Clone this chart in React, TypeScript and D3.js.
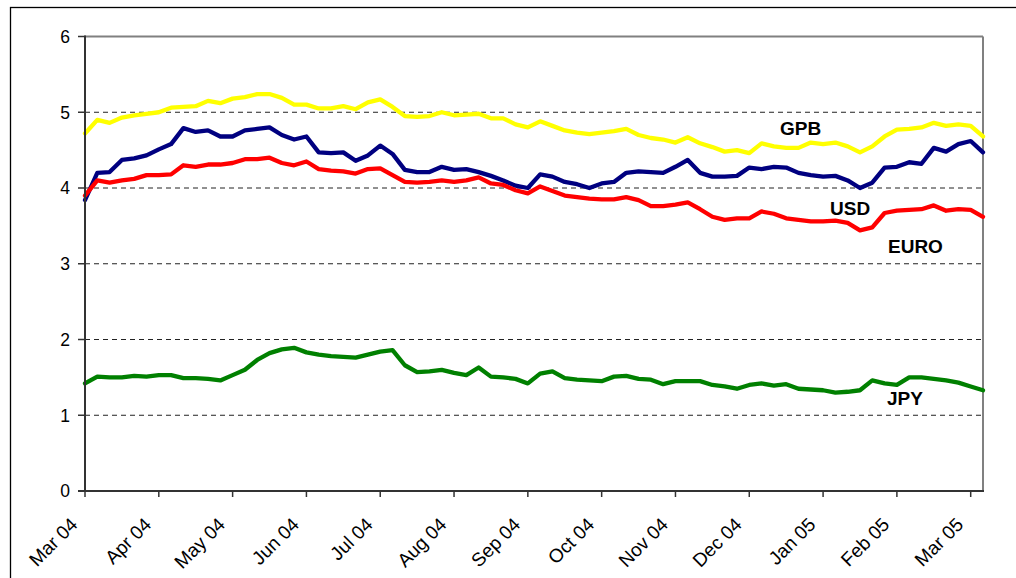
import React from "react";
import * as d3 from "d3";

// Month tick labels (equally spaced on a category-style axis)
const monthLabels = [
  "Mar 04", "Apr 04", "May 04", "Jun 04", "Jul 04", "Aug 04", "Sep 04",
  "Oct 04", "Nov 04", "Dec 04", "Jan 05", "Feb 05", "Mar 05",
];
const yTicks = [0, 1, 2, 3, 4, 5, 6];
// samples every 1/6 month, starting at Mar 04
const gbp = [
  4.72, 4.9, 4.86, 4.93, 4.96, 4.98, 5.0, 5.06, 5.07, 5.08, 5.15, 5.12, 5.18, 5.2, 5.24, 5.24, 5.19, 5.1, 5.1, 5.05,
  5.05, 5.08, 5.04, 5.13, 5.17, 5.07, 4.95, 4.94, 4.95, 5.0, 4.96, 4.97, 4.98, 4.92, 4.92, 4.84, 4.8, 4.88, 4.82, 4.76,
  4.73, 4.71, 4.73, 4.75, 4.78, 4.7, 4.66, 4.64, 4.6, 4.67, 4.59, 4.54, 4.48, 4.5, 4.46, 4.59, 4.55, 4.53, 4.53, 4.6,
  4.58, 4.6, 4.55, 4.47, 4.55, 4.68, 4.77, 4.78, 4.8, 4.86, 4.82, 4.84, 4.82, 4.68,
];
const usd = [
  3.84, 4.2, 4.21, 4.37, 4.39, 4.43, 4.51, 4.58, 4.79, 4.74, 4.76, 4.68, 4.68, 4.76, 4.78, 4.8, 4.7, 4.64, 4.68, 4.47,
  4.46, 4.47, 4.36, 4.43, 4.56, 4.45, 4.24, 4.21, 4.21, 4.28, 4.24, 4.25, 4.21, 4.16, 4.1, 4.03, 4.0, 4.18, 4.15, 4.08,
  4.05, 4.0, 4.06, 4.08, 4.2, 4.22, 4.21, 4.2, 4.28, 4.37, 4.2, 4.15, 4.15, 4.16, 4.27, 4.25, 4.28, 4.27, 4.2, 4.17,
  4.15, 4.16, 4.1, 4.0, 4.07, 4.27, 4.28, 4.34, 4.32, 4.53, 4.48, 4.58, 4.62, 4.47,
];
const euro = [
  3.9, 4.1, 4.07, 4.1, 4.12, 4.17, 4.17, 4.18, 4.3, 4.28, 4.31, 4.31, 4.33, 4.38, 4.38, 4.4, 4.33, 4.3, 4.35, 4.25,
  4.23, 4.22, 4.19, 4.25, 4.26, 4.17, 4.08, 4.07, 4.08, 4.1, 4.08, 4.1, 4.14, 4.06, 4.04, 3.97, 3.93, 4.02, 3.96, 3.9,
  3.88, 3.86, 3.85, 3.85, 3.88, 3.84, 3.76, 3.76, 3.78, 3.81, 3.72, 3.62, 3.58, 3.6, 3.6, 3.69, 3.66, 3.6, 3.58, 3.56,
  3.56, 3.57, 3.54, 3.44, 3.48, 3.67, 3.7, 3.71, 3.72, 3.77, 3.7, 3.72, 3.71, 3.62,
];
const jpy = [
  1.42, 1.51, 1.5, 1.5, 1.52, 1.51, 1.53, 1.53, 1.49, 1.49, 1.48, 1.46, 1.53, 1.6, 1.73, 1.82, 1.87, 1.89, 1.83, 1.8,
  1.78, 1.77, 1.76, 1.8, 1.84, 1.86, 1.66, 1.57, 1.58, 1.6, 1.56, 1.53, 1.63, 1.51, 1.5, 1.48, 1.42, 1.55, 1.58, 1.49,
  1.47, 1.46, 1.45, 1.51, 1.52, 1.48, 1.47, 1.41, 1.45, 1.45, 1.45, 1.4, 1.38, 1.35, 1.4, 1.42, 1.39, 1.41, 1.35, 1.34,
  1.33, 1.3, 1.31, 1.33, 1.46, 1.42, 1.4, 1.5, 1.5, 1.48, 1.46, 1.43, 1.38, 1.33,
];
const seriesNames = ["GPB", "USD", "EURO", "JPY"];
const seriesColors = ["#FFFF00", "#000080", "#FF0000", "#008000"];
const seriesData = [gbp, usd, euro, jpy];
const STEP = 1 / 6;

const labelPos: Record<string, [number, number]> = {
  GPB: [780, 135],
  USD: [830, 215],
  EURO: [888, 253],
  JPY: [887, 405],
};

export default function App() {
  const W = 1016, H = 578;
  const left = 85, right = 983, top = 36.5, bottom = 491;
  const n = gbp.length;
  const x = d3.scaleLinear().domain([0, (n - 1) * STEP]).range([left, right]);
  const y = d3.scaleLinear().domain([0, 6]).range([bottom, top]);
  const line = d3
    .line<number>()
    .x((_, i) => x(i * STEP))
    .y((d) => y(d));

  return (
    <svg
      width={W}
      height={H}
      style={{ position: "absolute", left: 0, top: 0, background: "#fff" }}
      fontFamily="Liberation Sans, Arial, sans-serif"
    >
      <rect x={0} y={0} width={W} height={H} fill="#fff" />
      <rect x={10.5} y={7.5} width={1030} height={620} fill="none" stroke="#000" strokeWidth={1.3} />
      {yTicks
        .filter((t) => t > 0 && t < 6)
        .map((t) => (
          <line
            key={"g" + t}
            x1={left}
            x2={right}
            y1={y(t)}
            y2={y(t)}
            stroke="#222"
            strokeWidth={1}
            strokeDasharray="5,4"
          />
        ))}
      <line x1={left} x2={right} y1={top} y2={top} stroke="#808080" strokeWidth={2} />
      <line x1={right} x2={right} y1={top} y2={bottom} stroke="#808080" strokeWidth={2} />
      {seriesData.map((d, i) => (
        <path
          key={seriesNames[i]}
          d={line(d) || ""}
          fill="none"
          stroke={seriesColors[i]}
          strokeWidth={4.3}
          strokeLinejoin="round"
          strokeLinecap="round"
        />
      ))}
      <line x1={left} x2={left} y1={top - 1} y2={bottom} stroke="#333" strokeWidth={2} />
      <line x1={left - 7} x2={right + 1} y1={bottom} y2={bottom} stroke="#333" strokeWidth={2} />
      {yTicks.map((t) => (
        <g key={"y" + t}>
          <line x1={left - 7} x2={left} y1={y(t)} y2={y(t)} stroke="#333" strokeWidth={1.5} />
          <text x={70} y={y(t)} dy="0.36em" textAnchor="end" fontSize={17.5} fill="#000">
            {t}
          </text>
        </g>
      ))}
      {monthLabels.map((m, i) => (
        <g key={m}>
          <line x1={x(i)} x2={x(i)} y1={bottom} y2={bottom + 6} stroke="#333" strokeWidth={1.5} />
          <text
            transform={`translate(${x(i) - 11},${521}) rotate(-45)`}
            textAnchor="end"
            dy="0.35em"
            fontSize={19}
            fill="#000"
          >
            {m}
          </text>
        </g>
      ))}
      {seriesNames.map((s) => (
        <text
          key={"l" + s}
          x={labelPos[s][0]}
          y={labelPos[s][1]}
          fontSize={19}
          fontWeight="bold"
          fill="#000"
        >
          {s}
        </text>
      ))}
    </svg>
  );
}
